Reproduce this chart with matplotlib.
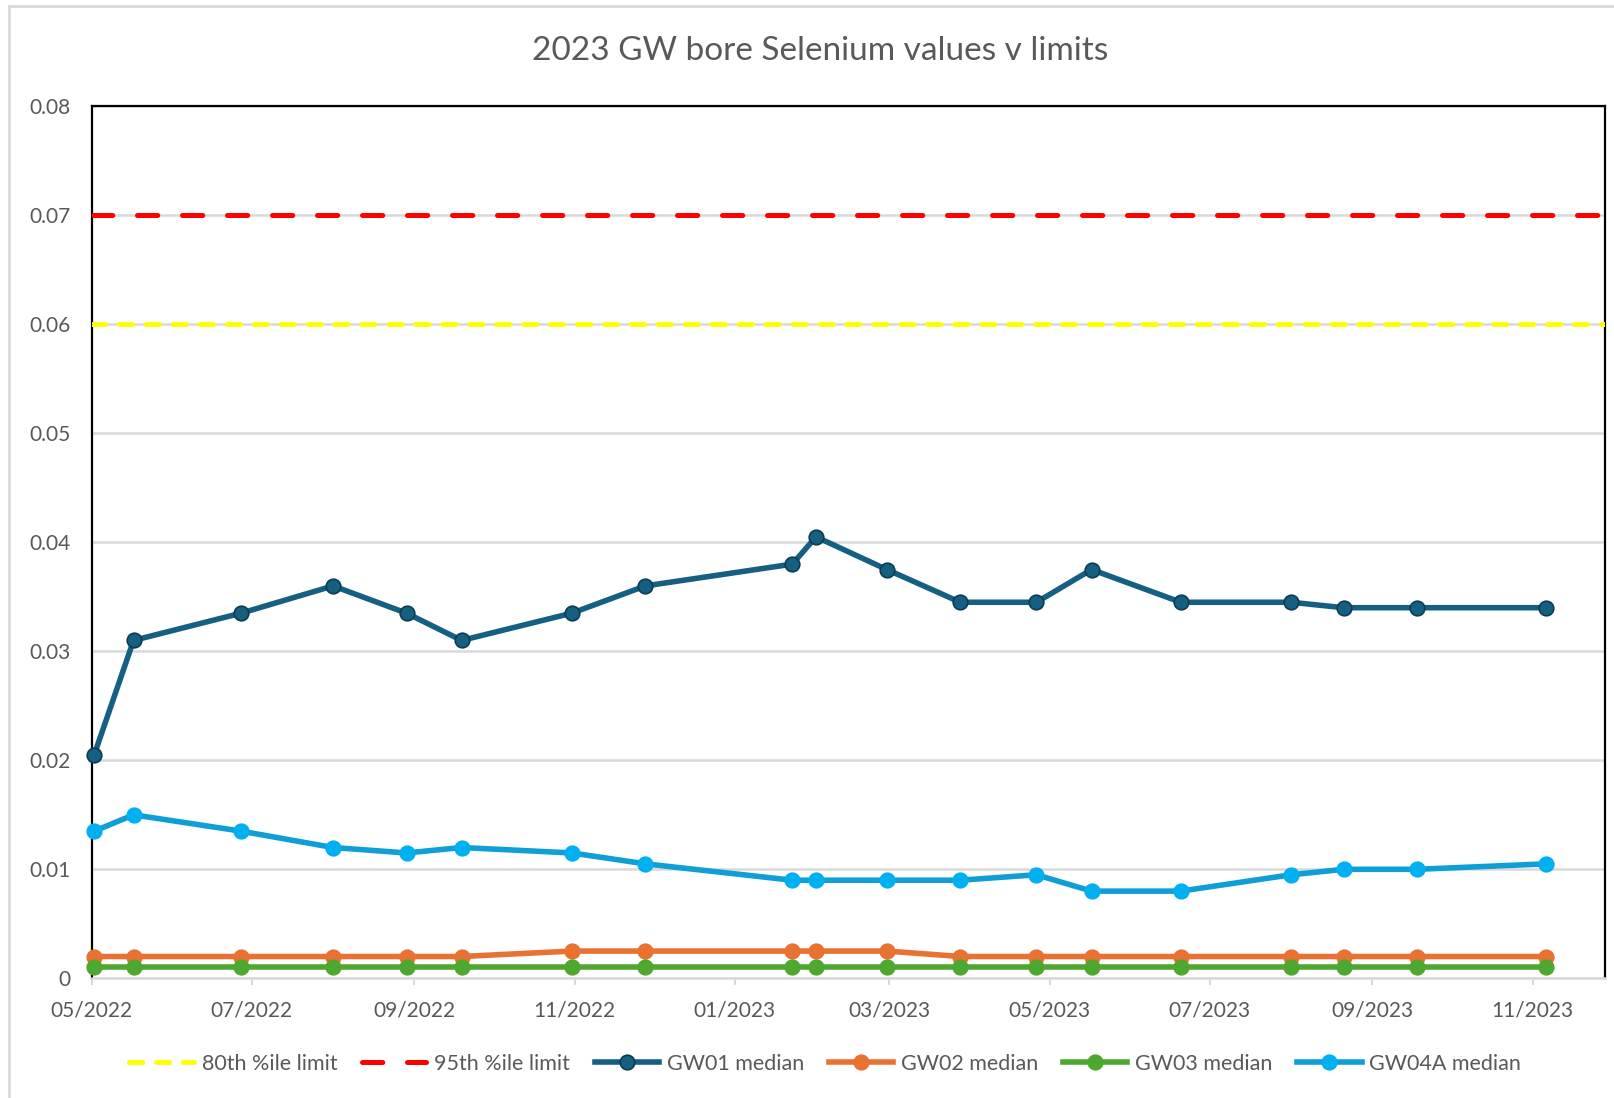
import pandas as pd
import matplotlib
matplotlib.use("Agg")
import matplotlib.pyplot as plt
import matplotlib.dates as mdates
from matplotlib.lines import Line2D
from matplotlib.ticker import MultipleLocator, FuncFormatter

plt.rcParams['font.family'] = ['Lato', 'DejaVu Sans']
plt.rcParams['lines.scale_dashes'] = False

# sample dates
sample_dates = pd.to_datetime([
    '2022-05-02', '2022-05-17', '2022-06-27', '2022-08-01', '2022-08-29',
    '2022-09-19', '2022-10-31', '2022-11-28', '2023-01-23', '2023-02-01',
    '2023-02-28', '2023-03-28', '2023-04-26', '2023-05-17', '2023-06-20',
    '2023-08-01', '2023-08-21', '2023-09-18', '2023-11-06',
])

gw01 = [0.0205, 0.031, 0.0335, 0.036, 0.0335, 0.031, 0.0335, 0.036, 0.038, 0.0405,
        0.0375, 0.0345, 0.0345, 0.0375, 0.0345, 0.0345, 0.034, 0.034, 0.034]
gw02 = [0.002, 0.002, 0.002, 0.002, 0.002, 0.002, 0.0025, 0.0025, 0.0025, 0.0025,
        0.0025, 0.002, 0.002, 0.002, 0.002, 0.002, 0.002, 0.002, 0.002]
gw03 = [0.001] * 19
gw04a = [0.0135, 0.015, 0.0135, 0.012, 0.0115, 0.012, 0.0115, 0.0105, 0.009, 0.009,
         0.009, 0.009, 0.0095, 0.008, 0.008, 0.0095, 0.01, 0.01, 0.0105]

limit_80 = 0.06
limit_95 = 0.07

series_names = ['GW01 median', 'GW02 median', 'GW03 median', 'GW04A median']
line_colors = ['#156082', '#E97132', '#4EA72E', '#0F9ED5']
marker_colors = ['#156082', '#E97132', '#4EA72E', '#00B0F0']
edge_colors = ['#0D3B52', '#E97132', '#4EA72E', '#00B0F0']

x_start = pd.Timestamp('2022-05-01')
x_end = pd.Timestamp('2023-11-28 10:00')

grey_text = '#595959'
grid_grey = '#D9D9D9'

fig = plt.figure(figsize=(16.15, 10.98), dpi=100)
ax = fig.add_axes([0.0567, 0.109, 0.9368, 0.7942])

# chart area border (only left and top visible in the crop)
fig.add_artist(Line2D([9 / 1615, 9 / 1615], [0, 1 - 6 / 1098], transform=fig.transFigure,
                      color=grid_grey, lw=2))
fig.add_artist(Line2D([9 / 1615, 1], [1 - 6 / 1098, 1 - 6 / 1098], transform=fig.transFigure,
                      color=grid_grey, lw=2))

ax.axhline(limit_80, color='#FFFF00', lw=3.6, dashes=(9.5, 9.9),
           dash_capstyle='round', label='80th %ile limit', zorder=3)
ax.axhline(limit_95, color='#FF0000', lw=3.6, dashes=(14.6, 17.8),
           dash_capstyle='round', label='95th %ile limit', zorder=3)

for vals, name, lc, mc, ec in zip([gw01, gw02, gw03, gw04a], series_names,
                                   line_colors, marker_colors, edge_colors):
    ax.plot(sample_dates, vals, color=lc, lw=4.0, marker='o', markersize=10.5,
            markerfacecolor=mc, markeredgecolor=ec, markeredgewidth=1.2,
            label=name, clip_on=False, zorder=4)

ax.set_xlim(x_start, x_end)
ax.set_ylim(0, 0.08)
ax.yaxis.set_major_locator(MultipleLocator(0.01))
ax.yaxis.set_major_formatter(FuncFormatter(lambda v, p: f'{v:g}'))
ax.xaxis.set_major_locator(mdates.MonthLocator(bymonth=[1, 3, 5, 7, 9, 11]))
ax.xaxis.set_major_formatter(mdates.DateFormatter('%m/%Y'))

ax.grid(axis='y', color=grid_grey, lw=1.8, zorder=0)
ax.set_axisbelow(True)

for side in ['left', 'top', 'right']:
    ax.spines[side].set_color('black')
    ax.spines[side].set_linewidth(1.6)
ax.spines['bottom'].set_color(grid_grey)
ax.spines['bottom'].set_linewidth(1.8)

ax.tick_params(axis='y', length=0, pad=15, labelsize=15, labelcolor=grey_text)
ax.tick_params(axis='x', length=5, width=1.5, color=grid_grey, pad=11,
               labelsize=15, labelcolor=grey_text)

fig.suptitle('2023 GW bore Selenium values v limits', x=0.508, y=0.954,
             va='center', fontsize=24, color=grey_text)

fig.legend(loc='center', bbox_to_anchor=(0.511, 0.031), ncol=6, frameon=False,
           fontsize=15.5, labelcolor=grey_text, handlelength=3.0, handletextpad=0.35,
           columnspacing=1.15)

fig.savefig('out.png', dpi=100, facecolor='white')
